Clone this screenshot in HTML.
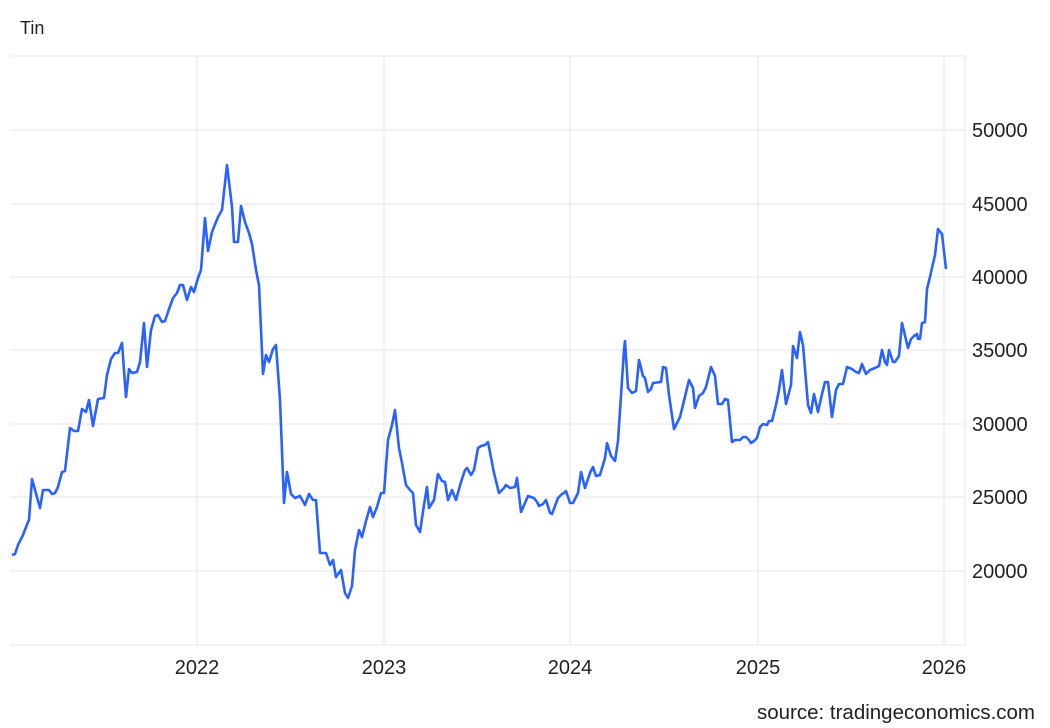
<!DOCTYPE html>
<html><head><meta charset="utf-8"><style>
body{margin:0;background:#fff;}
svg{display:block;font-family:"Liberation Sans",sans-serif;}
</style></head><body>
<svg width="1050" height="728" viewBox="0 0 1050 728">
<g stroke="#e6e6e6" stroke-width="1">
<line x1="10" y1="56" x2="965" y2="56"/>
<line x1="10" y1="130" x2="965" y2="130"/>
<line x1="10" y1="204" x2="965" y2="204"/>
<line x1="10" y1="277" x2="965" y2="277"/>
<line x1="10" y1="350" x2="965" y2="350"/>
<line x1="10" y1="424" x2="965" y2="424"/>
<line x1="10" y1="497" x2="965" y2="497"/>
<line x1="10" y1="571" x2="965" y2="571"/>
<line x1="10" y1="645" x2="965" y2="645"/>
<line x1="197" y1="56" x2="197" y2="645"/>
<line x1="384" y1="56" x2="384" y2="645"/>
<line x1="570" y1="56" x2="570" y2="645"/>
<line x1="758" y1="56" x2="758" y2="645"/>
<line x1="944" y1="56" x2="944" y2="645"/>
<line x1="965" y1="56" x2="965" y2="645"/>
</g>
<g fill="#222" font-size="20">
<text x="20" y="34" font-size="18">Tin</text>
<g text-anchor="start">
<text x="972" y="137">50000</text>
<text x="972" y="211">45000</text>
<text x="972" y="284">40000</text>
<text x="972" y="357">35000</text>
<text x="972" y="431">30000</text>
<text x="972" y="504">25000</text>
<text x="972" y="578">20000</text>
</g>
<g text-anchor="middle">
<text x="197" y="674">2022</text>
<text x="384" y="674">2023</text>
<text x="570" y="674">2024</text>
<text x="758" y="674">2025</text>
<text x="944" y="674">2026</text>
</g>
<text x="1035" y="719" text-anchor="end" font-size="20.5">source: tradingeconomics.com</text>
</g>
<polyline fill="none" stroke="#2962ff" stroke-width="2.6" stroke-linejoin="round" points="12,555 15,554 18,545 23,535 28,522 29,520 32,479 40,508 43,490 49,490 52,494 55,493 58,487 62,472 65,471 70,428 74,431 78,431 82,409 86,412 89,400 93,426 98,399 104,398 107,375 111,359 115,353 118,353 122,343 126,397 129,369 132,373 137,372 140,362 144,323 147,367 151,330 155,316 158,315 162,322 165,321 169,309 173,298 177,293 180,285 183,285 187,300 191,287 194,292 198,278 201,270 205,218 208,251 212,232 218,217 222,210 227,165 232,207 234,242 238,242 241,206 245,222 249,233 252,244 256,270 259,285 263,374 266,355 269,362 273,349 276,345 280,400 284,503 287,472 291,494 295,498 300,496 305,505 309,494 313,500 316,500 320,553 326,553 330,565 333,560 336,577 341,570 345,593 348,598 352,586 355,550 359,530 362,537 366,521 370,507 373,517 377,507 381,493 384,493 388,440 392,425 395,410 399,448 402,463 406,485 410,490 413,493 416,525 420,532 424,505 427,487 429,508 434,500 438,474 442,481 445,482 448,500 452,490 456,500 461,482 465,470 467,468 471,475 474,470 478,448 481,446 485,445 488,442 494,473 499,493 504,488 506,485 510,488 515,487 517,478 521,512 525,503 528,496 534,498 537,502 539,506 543,504 546,500 550,513 552,514 558,498 562,494 564,493 566,491 570,503 573,503 578,493 581,472 585,488 590,473 593,467 596,476 600,475 605,458 607,443 611,456 615,461 618,441 624,350 625,341 628,388 632,393 636,391 639,360 643,376 645,378 648,392 651,389 653,383 661,382 663,367 666,368 669,395 674,429 680,417 683,405 689,380 693,388 695,408 699,396 703,393 706,387 711,367 715,376 718,404 722,404 725,399 728,400 732,442 735,440 740,440 743,437 746,437 749,440 751,443 754,441 757,438 760,427 763,424 767,425 769,421 772,421 776,405 779,390 782,370 786,404 791,385 793,346 797,358 800,332 803,345 808,405 811,413 814,394 818,412 822,394 825,382 828,382 832,417 836,390 839,384 843,384 847,367 852,369 856,372 859,373 862,364 866,374 870,370 875,368 879,366 882,350 885,362 887,365 889,350 893,362 895,362 897,359 899,356 902,323 908,348 911,339 914,336 917,334 918,339 920,339 922,323 925,322 927,289 930,277 932,268 935,255 938,229 942,234 946,269"/>
</svg>
</body></html>
